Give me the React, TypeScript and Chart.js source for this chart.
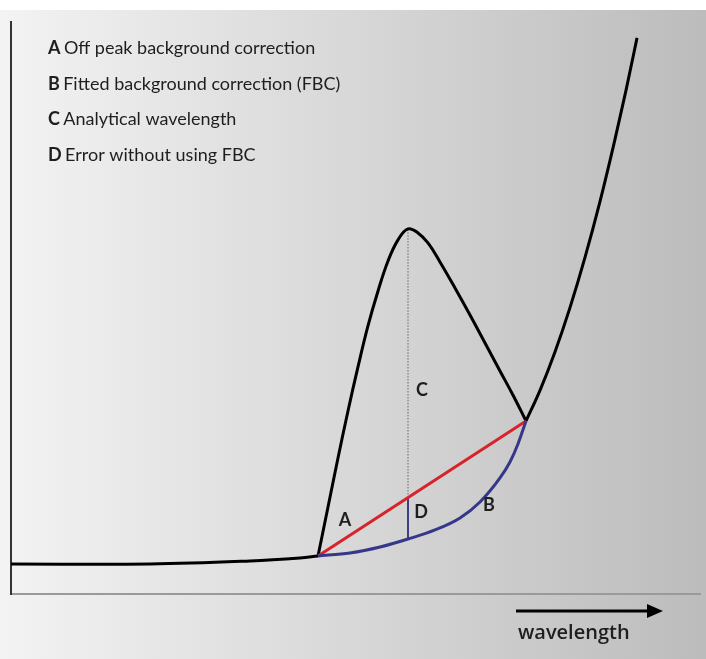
import { useEffect, useRef } from "react";
import { Chart, registerables } from "chart.js";

Chart.register(...registerables);

// Spectrum signal (arbitrary units: wavelength 0-100, intensity 0-100)
const baselineX = [0, 20.17, 34.69, 41.94, 44.56];
const baselineY = [5.32, 5.32, 5.85, 6.38, 6.74];

const peakX = [44.56, 46.01, 47.46, 48.91, 50.36, 51.81, 53.27, 54.72, 56.17, 57.62, 59.07, 60.52, 62.26, 64.44, 66.62, 68.8, 70.97, 73.0, 74.75];
const peakY = [6.74, 15.43, 24.11, 32.45, 40.25, 47.52, 53.72, 59.04, 62.77, 64.72, 64.01, 62.23, 58.87, 54.26, 49.47, 44.5, 39.54, 34.93, 30.67];

const riseX = [74.75, 76.78, 78.95, 81.13, 83.31, 85.49, 87.66, 89.26, 90.86];
const riseY = [30.67, 36.1, 42.91, 50.76, 59.66, 69.59, 80.59, 89.29, 98.58];

// B: fitted background under the peak
const fitX = [44.56, 49.2, 53.56, 57.62, 61.54, 65.17, 68.07, 70.97, 72.42, 73.58, 74.75];
const fitY = [6.74, 7.27, 8.33, 9.75, 11.35, 13.48, 16.31, 20.57, 23.4, 26.6, 30.67];

// A: off-peak (straight) background
const offPeakX = [44.56, 74.75];
const offPeakY = [6.74, 30.67];

// C: analytical wavelength, D: error
const analyticalX = 57.62;
const peakTopY = 64.72;
const offPeakAtC = 17.09;
const fitAtC = 9.75;

const letterLabels = ["A", "B", "C", "D"];
const letterX = [48.48, 69.38, 59.65, 59.51];
const letterY = [13.12, 15.78, 36.17, 14.54];

const legendLetters = ["A", "B", "C", "D"];
const legendTexts = [
  "Off peak background correction",
  "Fitted background correction (FBC)",
  "Analytical wavelength",
  "Error without using FBC",
];
const axisLabel = "wavelength";

const pts = (xs: number[], ys: number[]) => xs.map((x, i) => ({ x, y: ys[i] }));

const FONT = "Lato, 'Open Sans', sans-serif";

const bgPlugin = {
  id: "bg",
  beforeDraw(chart: any) {
    const { ctx, width, height } = chart;
    ctx.save();
    ctx.fillStyle = "#ffffff";
    ctx.fillRect(0, 0, width, height);
    const g = ctx.createLinearGradient(0, 0, width, 0);
    g.addColorStop(0, "#f3f3f3");
    g.addColorStop(1, "#bcbcbc");
    ctx.fillStyle = g;
    ctx.fillRect(0, 10, width, height - 10);
    ctx.restore();
  },
};

const textPlugin = {
  id: "texts",
  afterDraw(chart: any) {
    const { ctx } = chart;
    const xs = chart.scales.x;
    const ys = chart.scales.y;
    ctx.save();
    ctx.fillStyle = "#1e1e1e";
    ctx.textBaseline = "middle";
    // letters on the plot
    ctx.font = `bold 18px ${FONT}`;
    ctx.textAlign = "center";
    letterLabels.forEach((l, i) => {
      ctx.fillText(l, xs.getPixelForValue(letterX[i]), ys.getPixelForValue(letterY[i]));
    });
    // legend block
    ctx.textAlign = "left";
    const rowY = [48, 84, 119, 155];
    legendLetters.forEach((l, i) => {
      ctx.font = `bold 18px ${FONT}`;
      ctx.fillText(l, 48, rowY[i]);
      const w = ctx.measureText(l + " ").width;
      ctx.font = `18px ${FONT}`;
      ctx.fillText(legendTexts[i], 48 + w - 1, rowY[i]);
    });
    // wavelength arrow
    ctx.strokeStyle = "#000";
    ctx.lineWidth = 3;
    ctx.beginPath();
    ctx.moveTo(516, 611);
    ctx.lineTo(650, 611);
    ctx.stroke();
    ctx.fillStyle = "#000";
    ctx.beginPath();
    ctx.moveTo(647, 604);
    ctx.lineTo(663, 611);
    ctx.lineTo(647, 618);
    ctx.closePath();
    ctx.fill();
    ctx.fillStyle = "#1e1e1e";
    ctx.font = `600 20px 'Open Sans', sans-serif`;
    ctx.fillText(axisLabel, 518, 633);
    ctx.restore();
  },
};

export default function App() {
  const ref = useRef<HTMLCanvasElement | null>(null);

  useEffect(() => {
    if (!ref.current) return;
    const line = (data: any, color: string, width: number, extra: any = {}) => ({
      type: "line",
      data,
      borderColor: color,
      borderWidth: width,
      pointRadius: 0,
      fill: false,
      clip: false,
      tension: 0.4,
      ...extra,
    });
    const chart = new Chart(ref.current, {
      type: "line",
      data: {
        datasets: [
          line(pts(fitX, fitY), "#37378a", 3, { cubicInterpolationMode: "monotone" }),
          line(pts(offPeakX, offPeakY), "#d9232b", 3),
          line(pts(baselineX, baselineY), "#000", 3),
          line(pts(peakX, peakY), "#000", 3),
          line(pts(riseX, riseY), "#000", 3, { cubicInterpolationMode: "monotone" }),
          line(
            [
              { x: analyticalX, y: fitAtC },
              { x: analyticalX, y: offPeakAtC },
            ],
            "#2e2e7a",
            1.8
          ),
          line(
            [
              { x: analyticalX, y: offPeakAtC },
              { x: analyticalX, y: peakTopY },
            ],
            "#666",
            1,
            { borderDash: [1.5, 1.5] }
          ),
        ] as any,
      },
      options: {
        responsive: false,
        animation: false,
        devicePixelRatio: 1,
        layout: { padding: { left: 11, top: 22, right: 6, bottom: 65 } },
        plugins: { legend: { display: false }, tooltip: { enabled: false } },
        events: [],
        scales: {
          x: {
            type: "linear",
            min: 0,
            max: 100,
            grid: { display: false, drawTicks: false },
            ticks: { display: false },
            border: { display: true, color: "#9a9a9a", width: 2 },
          },
          y: {
            type: "linear",
            min: 0,
            max: 101.4,
            grid: { display: false, drawTicks: false },
            ticks: { display: false },
            border: { display: true, color: "#333", width: 2 },
          },
        },
      },
      plugins: [bgPlugin, textPlugin],
    } as any);
    return () => chart.destroy();
  }, []);

  return (
    <div style={{ position: "fixed", left: 0, top: 0, width: 706, height: 659 }}>
      <canvas ref={ref} width={706} height={659} style={{ width: 706, height: 659, display: "block" }} />
    </div>
  );
}
